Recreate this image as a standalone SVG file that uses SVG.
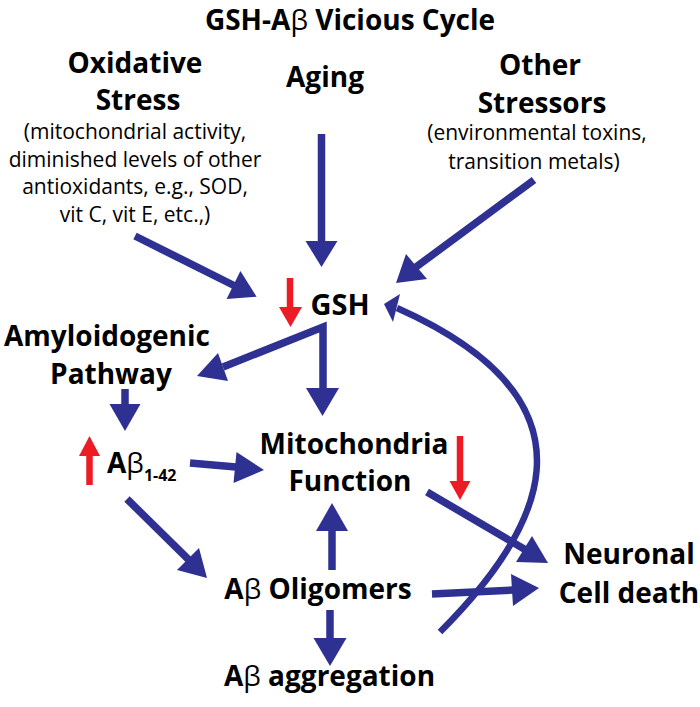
<svg xmlns="http://www.w3.org/2000/svg" width="700" height="707" viewBox="0 0 700 707">
<style>
text{font-family:"Open Sans","Noto Sans","DejaVu Sans",sans-serif;fill:#000}
.h{font-weight:700;font-size:28px;text-anchor:middle}
.t{font-weight:700;font-size:28px;text-anchor:middle}
.s{font-weight:400;font-size:21px;text-anchor:middle}
.b{font-weight:400}
.ln{stroke:#2E3192;stroke-width:7.5;fill:none}
.hd{fill:#2E3192}
.rl{stroke:#ED1C24;stroke-width:6.5;fill:none}
.rh{fill:#ED1C24}
</style>
<rect width="700" height="707" fill="#fff"/>
<g id="title"><text class="t" x="350" y="30">GSH-A<tspan class="b">β</tspan> Vicious Cycle</text></g>
<g id="oxidative">
<text class="h" x="135" y="73">Oxidative</text>
<text class="h" x="138" y="110">Stress</text>
<text class="s" x="135" y="139">(mitochondrial activity,</text>
<text class="s" x="135" y="166.5">diminished levels of other</text>
<text class="s" x="135" y="194">antioxidants, e.g., SOD,</text>
<text class="s" x="135" y="221.5">vit C, vit E, etc.,)</text>
</g>
<g id="aging"><text class="h" x="325" y="87">Aging</text></g>
<g id="other">
<text class="h" x="540" y="75">Other</text>
<text class="h" x="542" y="113">Stressors</text>
<text class="s" x="537" y="140">(environmental toxins,</text>
<text class="s" x="534" y="169">transition metals)</text>
</g>
<g id="gsh"><text class="h" x="340" y="315" style="font-size:29px">GSH</text>
<path class="rl" d="M290,278 V308"/><polygon class="rh" points="279,307 302,307 290.5,327"/></g>
<g id="amyloid">
<text class="h" x="107" y="346">Amyloidogenic</text>
<text class="h" x="111" y="384">Pathway</text>
</g>
<g id="abeta"><text class="h" x="107" y="473" style="text-anchor:start">A<tspan class="b">β</tspan><tspan dy="8" style="font-size:16px">1-42</tspan></text>
<path class="rl" d="M89.5,485 V455"/><polygon class="rh" points="79,456 100,456 89.5,436"/></g>
<g id="mito">
<text class="h" x="354" y="454">Mitochondria</text>
<text class="h" x="350" y="491">Function</text>
<path class="rl" d="M460,436 V482"/><polygon class="rh" points="449.5,481 470.5,481 460,500"/>
</g>
<g id="neuronal">
<text class="h" x="629" y="564">Neuronal</text>
<text class="h" x="629" y="603">Cell death</text>
</g>
<g id="oligomers"><text class="h" x="318" y="599">A<tspan class="b">β</tspan> Oligomers</text></g>
<g id="aggregation"><text class="h" x="329.5" y="686">A<tspan class="b">β</tspan> aggregation</text></g>
<g id="connectors">
<path class="ln" d="M135,236 L234,285.5"/><polygon class="hd" points="240.4,271.1 256.6,296.7 226.6,298.9"/>
<path class="ln" d="M321.5,134 V242"/><polygon class="hd" points="305.5,241 337.5,241 321.5,267"/>
<path class="ln" d="M534,180 L416,267"/><polygon class="hd" points="406,254 427,279 396,283"/>
<path class="ln" d="M223,367 L323,327 V389" style="stroke-linejoin:miter"/><polygon class="hd" points="218,353 228,381 197,376"/>
<polygon class="hd" points="306,388 339,388 322.5,416"/>
<path class="ln" d="M125,389 V405"/><polygon class="hd" points="109.5,404 140.5,404 125,431"/>
<path class="ln" d="M190,463 L236,467"/><polygon class="hd" points="236.5,452 264,470 233.5,483"/>
<path class="ln" d="M127,499 L189,560"/><polygon class="hd" points="177,570 199,548 207,578"/>
<path class="ln" d="M332,570 V530"/><polygon class="hd" points="316,531 348,531 332,503"/>
<path class="ln" d="M330,610 V639"/><polygon class="hd" points="313.5,638 346.5,638 330,666"/>
<path class="ln" d="M427,492 L525,549.5"/><polygon class="hd" points="516,562 532,536 548,563"/>
<path class="ln" d="M432,594 L513,590"/><polygon class="hd" points="511,574 513,606 539,588"/>
<path class="ln" d="M440,632 C537,535 615,405 397,308" style="stroke-width:6.5"/><polygon class="hd" points="384,304 400,294 393,322"/>
</g>
</svg>
